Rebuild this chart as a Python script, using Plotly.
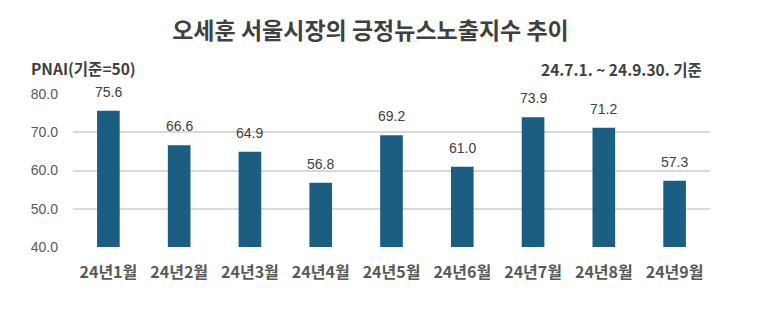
import plotly.graph_objects as go

# Monthly positive-news exposure index (PNAI, baseline = 50)
months = ["24년1월", "24년2월", "24년3월", "24년4월", "24년5월",
          "24년6월", "24년7월", "24년8월", "24년9월"]
pnai = [75.6, 66.6, 64.9, 56.8, 69.2, 61.0, 73.9, 71.2, 57.3]
y_ticks = [40, 50, 60, 70, 80]

bar_color = "#1b5e82"
kr_font = "Noto Sans CJK KR"

fig = go.Figure()
fig.add_trace(go.Bar(
    x=months,
    y=pnai,
    marker=dict(color=bar_color, line=dict(width=0)),
    hoverinfo="x+y",
))

# Value labels above each bar
for m, v in zip(months, pnai):
    fig.add_annotation(
        x=m, y=v, text=f"{v:.1f}", showarrow=False,
        yanchor="bottom", yshift=9,
        font=dict(family="Liberation Sans, Arial", size=14, color="#404040"),
    )

fig.update_layout(
    width=773, height=329,
    margin=dict(l=73, r=63, t=94, b=82),
    paper_bgcolor="white", plot_bgcolor="white",
    bargap=0.68,
    showlegend=False,
    title=dict(
        text="<b>오세훈 서울시장의 긍정뉴스노출지수 추이</b>",
        x=0.467, xref="paper", xanchor="center",
        y=0.906, yref="container", yanchor="middle",
        font=dict(family=kr_font, size=23, color="#404040"),
    ),
    xaxis=dict(
        showgrid=False, showline=False, zeroline=False,
        ticks="", ticklabelstandoff=14,
        tickfont=dict(family=kr_font, size=16, color="#595959", weight="bold"),
    ),
    yaxis=dict(
        range=[40, 80], tickvals=y_ticks,
        ticktext=[f"{t:.1f}" for t in y_ticks],
        showgrid=True, gridcolor="#d9d9d9", gridwidth=1.5,
        zeroline=False, showline=False, ticks="",
        ticklabelstandoff=14,
        tickfont=dict(family="Liberation Sans, Arial", size=14, color="#595959"),
    ),
)

fig.add_annotation(
    xref="paper", yref="paper", x=-0.069, y=1.17,
    xanchor="left", yanchor="middle", showarrow=False,
    text="<b>PNAI(기준=50)</b>",
    font=dict(family=kr_font, size=15.5, color="#404040"),
)
fig.add_annotation(
    xref="paper", yref="paper", x=0.991, y=1.163,
    xanchor="right", yanchor="middle", showarrow=False,
    text="<b>24.7.1. ~ 24.9.30. 기준</b>",
    font=dict(family=kr_font, size=15.5, color="#404040"),
)

fig.write_html("out.html")
